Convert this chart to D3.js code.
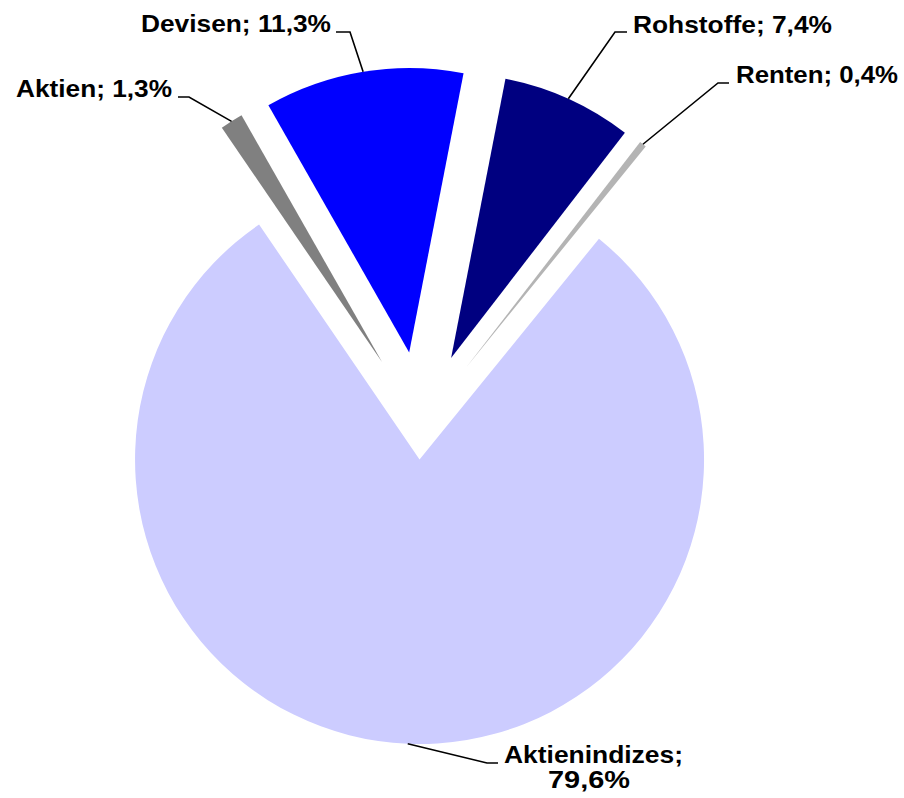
<!DOCTYPE html>
<html>
<head>
<meta charset="utf-8">
<script src="https://cdn.jsdelivr.net/npm/d3@7"></script>
<style>
  html, body { margin: 0; padding: 0; background: #ffffff; }
  svg { display: block; }
  text { font-family: "Liberation Sans", Arial, sans-serif; font-weight: bold; fill: #000; }
</style>
</head>
<body>
<svg id="chart" width="904" height="798"></svg>
<script>
// ---- data ----
const categories = ["Aktienindizes", "Aktien", "Devisen", "Rohstoffe", "Renten"];
const values = [79.6, 1.3, 11.3, 7.4, 0.4];

// ---- styling / layout ----
const colors = ["#CCCCFF", "#808080", "#0000FF", "#000080", "#B4B4B4"];
const explode = [35, 73, 73, 73, 73];
const cx = 421, cy = 424.5, radius = 284.5;
const startDeg = 39.1;
// label layout: elbow point, line end, text anchor x (start), text end x, baseline(s)
const labelLayout = [
  { elbow: [487, 763], end: [498, 763], lines: [{ x0: 504, x1: 683, y: 763 }, { x0: 548, x1: 630, y: 788 }] },
  { elbow: [189, 97], end: [178, 97], lines: [{ x0: 16, x1: 172, y: 97 }] },
  { elbow: [350, 32], end: [336, 32], lines: [{ x0: 141, x1: 331, y: 32 }] },
  { elbow: [615, 32], end: [627, 32], lines: [{ x0: 633, x1: 832, y: 33 }] },
  { elbow: [718, 83], end: [729, 83], lines: [{ x0: 736, x1: 898, y: 83 }] }
];

const svg = d3.select("#chart");
svg.append("rect").attr("width", 904).attr("height", 798).attr("fill", "#fff");

const data = categories.map((c, i) => ({ name: c, value: values[i], i }));
const start = startDeg * Math.PI / 180;
const pie = d3.pie().sort(null).value(d => d.value).startAngle(start).endAngle(start + 2 * Math.PI);
const arcs = pie(data);
const arc = d3.arc().innerRadius(0).outerRadius(radius);

const fmt = v => v.toFixed(1).replace(".", ",") + "%";

const g = svg.append("g").attr("transform", `translate(${cx},${cy})`);

arcs.forEach(a => {
  const mid = (a.startAngle + a.endAngle) / 2;
  const e = explode[a.index];
  a.ox = Math.sin(mid) * e;
  a.oy = -Math.cos(mid) * e;
  a.mid = mid;
});

g.selectAll("path.slice")
  .data(arcs)
  .join("path")
  .attr("class", "slice")
  .attr("transform", d => `translate(${d.ox},${d.oy})`)
  .attr("d", arc)
  .attr("fill", d => colors[d.index]);

// leader lines
arcs.forEach(a => {
  const L = labelLayout[a.index];
  const px = cx + a.ox + Math.sin(a.mid) * radius;
  const py = cy + a.oy - Math.cos(a.mid) * radius;
  svg.append("polyline")
    .attr("points", [[px, py], L.elbow, L.end].map(p => p.join(",")).join(" "))
    .attr("fill", "none")
    .attr("stroke", "#000")
    .attr("stroke-width", 1.6);
});

// labels
arcs.forEach(a => {
  const L = labelLayout[a.index];
  const name = a.data.name, val = fmt(a.data.value);
  const texts = L.lines.length === 2 ? [name + ";", val] : [name + "; " + val];
  texts.forEach((t, k) => {
    const ln = L.lines[k];
    svg.append("text")
      .attr("x", ln.x0)
      .attr("y", ln.y)
      .attr("font-size", 24)
      .attr("textLength", ln.x1 - ln.x0)
      .attr("lengthAdjust", "spacingAndGlyphs")
      .text(t);
  });
});
</script>
</body>
</html>
